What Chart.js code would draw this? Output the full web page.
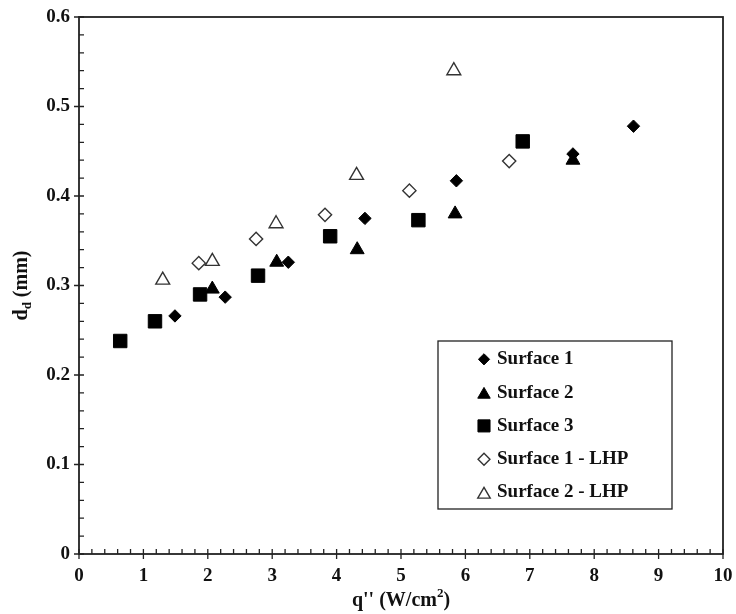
<!DOCTYPE html>
<html>
<head>
<meta charset="utf-8">
<script src="https://cdn.jsdelivr.net/npm/chart.js@4.4.1/dist/chart.umd.min.js"></script>
<style>
  html, body { margin: 0; padding: 0; background: #fff; }
  canvas { display: block; }
</style>
</head>
<body>
<canvas id="chart" width="736" height="614"></canvas>
<script>
// values: heat flux q'' (W/cm2) against departure diameter d_d (mm)
const surface1X = [1.49, 2.27, 3.25, 4.44, 5.86, 7.67, 8.61];
const surface1Y = [0.266, 0.287, 0.326, 0.375, 0.417, 0.447, 0.478];

const surface2X = [2.07, 3.07, 4.32, 5.84, 7.67];
const surface2Y = [0.296, 0.326, 0.340, 0.380, 0.440];

const surface3X = [0.64, 1.18, 1.88, 2.78, 3.90, 5.27, 6.89];
const surface3Y = [0.238, 0.260, 0.290, 0.311, 0.355, 0.373, 0.461];

const surface1LhpX = [1.86, 2.75, 3.82, 5.13, 6.68];
const surface1LhpY = [0.325, 0.352, 0.379, 0.406, 0.439];

const surface2LhpX = [1.30, 2.07, 3.06, 4.31, 5.82];
const surface2LhpY = [0.306, 0.327, 0.369, 0.423, 0.540];

const xTicks = [0, 1, 2, 3, 4, 5, 6, 7, 8, 9, 10];
const yTicks = [0, 0.1, 0.2, 0.3, 0.4, 0.5, 0.6];
const minorDivisions = 5;

const font = '"Liberation Serif", "Times New Roman", serif';

function points(xs, ys) {
    return xs.map((x, i) => ({ x: x, y: ys[i] }));
}

// Draws a run of text pieces (used for sub/superscripts) centred on cx
function drawRich(ctx, parts, cx, y) {
    let total = 0;
    parts.forEach(p => { ctx.font = p.font; total += ctx.measureText(p.text).width; });
    let x = cx - total / 2;
    parts.forEach(p => {
        ctx.font = p.font;
        ctx.fillText(p.text, x, y + (p.dy || 0));
        x += ctx.measureText(p.text).width;
    });
}

// Box around the plot plus inward minor ticks, like the original plot
const framePlugin = {
    id: 'frame',
    beforeDatasetsDraw(chart) {
        const ctx = chart.ctx;
        const a = chart.chartArea;
        const xs = chart.scales.x, ys = chart.scales.y;
        ctx.save();
        ctx.strokeStyle = '#222';
        ctx.lineWidth = 1.8;
        ctx.strokeRect(a.left, a.top, a.right - a.left, a.bottom - a.top);

        ctx.lineWidth = 1.3;
        ctx.beginPath();
        for (let i = 0; i < xTicks.length; i++) {
            const px = xs.getPixelForValue(xTicks[i]);
            ctx.moveTo(px, a.bottom + 5);
            ctx.lineTo(px, a.bottom - 5);
            if (i < xTicks.length - 1) {
                const step = (xTicks[i + 1] - xTicks[i]) / minorDivisions;
                for (let k = 1; k < minorDivisions; k++) {
                    const mx = xs.getPixelForValue(xTicks[i] + k * step);
                    ctx.moveTo(mx, a.bottom);
                    ctx.lineTo(mx, a.bottom - 5);
                }
            }
        }
        for (let i = 0; i < yTicks.length; i++) {
            const py = ys.getPixelForValue(yTicks[i]);
            ctx.moveTo(a.left - 5, py);
            ctx.lineTo(a.left + 5, py);
            if (i < yTicks.length - 1) {
                const step = (yTicks[i + 1] - yTicks[i]) / minorDivisions;
                for (let k = 1; k < minorDivisions; k++) {
                    const my = ys.getPixelForValue(yTicks[i] + k * step);
                    ctx.moveTo(a.left, my);
                    ctx.lineTo(a.left + 5, my);
                }
            }
        }
        ctx.stroke();
        ctx.restore();
    }
};

// Axis titles with the subscript / superscript
const titlesPlugin = {
    id: 'titles',
    afterDraw(chart) {
        const ctx = chart.ctx;
        const a = chart.chartArea;
        const big = 'bold 20px ' + font;
        const small = 'bold 13px ' + font;
        ctx.save();
        ctx.fillStyle = '#111';
        ctx.textBaseline = 'alphabetic';
        drawRich(ctx, [
            { text: "q'' (W/cm", font: big },
            { text: '2', font: small, dy: -9 },
            { text: ')', font: big }
        ], (a.left + a.right) / 2, 606);

        ctx.translate(27, (a.top + a.bottom) / 2);
        ctx.rotate(-Math.PI / 2);
        drawRich(ctx, [
            { text: 'd', font: big },
            { text: 'd', font: small, dy: 4 },
            { text: ' (mm)', font: big }
        ], 0, 0);
        ctx.restore();
    }
};

// Legend box inside the plot, built from the datasets
const legendPlugin = {
    id: 'boxLegend',
    afterDraw(chart) {
        const ctx = chart.ctx;
        const box = { left: 438, top: 341, width: 234, height: 168 };
        const rowTop = 359.3, rowGap = 33.3, markerX = 484, textX = 497;
        ctx.save();
        ctx.fillStyle = '#fff';
        ctx.fillRect(box.left, box.top, box.width, box.height);
        ctx.strokeStyle = '#222';
        ctx.lineWidth = 1.3;
        ctx.strokeRect(box.left, box.top, box.width, box.height);

        chart.data.datasets.forEach((ds, i) => {
            const y = rowTop + i * rowGap;
            ctx.fillStyle = ds.backgroundColor;
            ctx.strokeStyle = ds.borderColor;
            ctx.lineWidth = ds.borderWidth;
            Chart.helpers.drawPoint(ctx, {
                pointStyle: ds.pointStyle,
                radius: ds.pointRadius * 0.9,
                rotation: 0,
                borderWidth: ds.borderWidth
            }, markerX, ds.pointStyle === 'triangle' ? y + 2 : y);
            ctx.fillStyle = '#111';
            ctx.font = 'bold 19px ' + font;
            ctx.textBaseline = 'middle';
            ctx.fillText(ds.label, textX, y);
        });
        ctx.restore();
    }
};

const ctx = document.getElementById('chart').getContext('2d');
new Chart(ctx, {
    type: 'scatter',
    data: {
        datasets: [
            {
                label: 'Surface 1',
                data: points(surface1X, surface1Y),
                pointStyle: 'rectRot',
                pointRadius: 6.2,
                backgroundColor: '#000',
                borderColor: '#000',
                borderWidth: 1
            },
            {
                label: 'Surface 2',
                data: points(surface2X, surface2Y),
                pointStyle: 'triangle',
                pointRadius: 8,
                backgroundColor: '#000',
                borderColor: '#000',
                borderWidth: 1
            },
            {
                label: 'Surface 3',
                data: points(surface3X, surface3Y),
                pointStyle: 'rect',
                pointRadius: 9.5,
                backgroundColor: '#000',
                borderColor: '#000',
                borderWidth: 1
            },
            {
                label: 'Surface 1 - LHP',
                data: points(surface1LhpX, surface1LhpY),
                pointStyle: 'rectRot',
                pointRadius: 6.6,
                backgroundColor: '#fff',
                borderColor: '#333',
                borderWidth: 1.4
            },
            {
                label: 'Surface 2 - LHP',
                data: points(surface2LhpX, surface2LhpY),
                pointStyle: 'triangle',
                pointRadius: 8,
                backgroundColor: '#fff',
                borderColor: '#333',
                borderWidth: 1.4
            }
        ]
    },
    options: {
        responsive: false,
        animation: false,
        layout: {
            padding: { top: 17, right: 13, left: 0, bottom: 0 }
        },
        plugins: {
            legend: { display: false },
            tooltip: { enabled: false }
        },
        scales: {
            x: {
                type: 'linear',
                min: 0,
                max: 10,
                afterBuildTicks: scale => { scale.ticks = xTicks.map(v => ({ value: v })); },
                afterFit: scale => {
                    scale.height = 60;
                    scale.paddingLeft = 0;
                    scale.paddingRight = 0;
                },
                grid: { display: false, drawTicks: false },
                border: { display: false },
                ticks: {
                    padding: 11,
                    color: '#111',
                    autoSkip: false,
                    maxRotation: 0,
                    font: { family: font, size: 19, weight: 'bold' },
                    callback: v => String(v)
                }
            },
            y: {
                type: 'linear',
                min: 0,
                max: 0.6,
                afterBuildTicks: scale => { scale.ticks = yTicks.map(v => ({ value: v })); },
                afterFit: scale => {
                    scale.width = 79;
                    scale.paddingTop = 0;
                    scale.paddingBottom = 0;
                },
                grid: { display: false, drawTicks: false },
                border: { display: false },
                ticks: {
                    padding: 9,
                    color: '#111',
                    autoSkip: false,
                    font: { family: font, size: 19, weight: 'bold' },
                    callback: v => v === 0 ? '0' : v.toFixed(1)
                }
            }
        }
    },
    plugins: [framePlugin, titlesPlugin, legendPlugin]
});
</script>
</body>
</html>
